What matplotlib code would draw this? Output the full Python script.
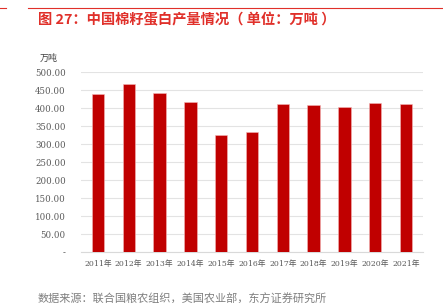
import matplotlib.pyplot as plt
from matplotlib.lines import Line2D

plt.rcParams['font.family'] = ['Noto Sans CJK SC', 'DejaVu Sans']

years = ['2011年', '2012年', '2013年', '2014年', '2015年', '2016年',
         '2017年', '2018年', '2019年', '2020年', '2021年']
output = [439, 466, 443, 416, 325, 333, 411, 409, 404, 413, 411]
yticks = [0, 50, 100, 150, 200, 250, 300, 350, 400, 450, 500]
ytick_labels = ['-'] + ['%.2f' % v for v in yticks[1:]]

W, H = 443, 303
fig = plt.figure(figsize=(W / 100, H / 100), dpi=100)

# plot area in pixel coords
left, right, top, bottom = 81, 423, 72, 252
ax = fig.add_axes([left / W, 1 - bottom / H, (right - left) / W, (bottom - top) / H])

x = range(len(years))
ax.bar(x, output, width=0.4, color='#C00000', edgecolor='#F4B6B6', linewidth=0.4, zorder=3)
ax.set_xlim(-0.55, len(years) - 0.45)
ax.set_ylim(0, 500)
ax.set_yticks(yticks)
ax.set_yticklabels(ytick_labels)
ax.set_xticks(list(x))
ax.set_xticklabels(years)
ax.grid(axis='y', color='#E3E3E3', linewidth=0.8, zorder=0)
for s in ['top', 'right', 'left']:
    ax.spines[s].set_visible(False)
ax.spines['bottom'].set_color('#D9D9D9')
ax.tick_params(length=0, colors='#595959', pad=6)
ax.tick_params(axis='y', pad=11, labelsize=6.2)
ax.tick_params(axis='x', labelsize=5.6)
serif = ['DejaVu Serif', 'Noto Sans CJK SC']
for lab in ax.get_xticklabels() + ax.get_yticklabels():
    lab.set_family(serif)

# header rule
fig.add_artist(Line2D([28 / W, 1], [1 - 8 / H, 1 - 8 / H], color='#E0302A', lw=0.8))
fig.add_artist(Line2D([0, 6 / W], [1 - 8 / H, 1 - 8 / H], color='#E0302A', lw=0.8))

fig.text(38 / W, 1 - 20 / H, '图 27：中国棉籽蛋白产量情况（ 单位：万吨 ）',
         color='#E0302A', fontsize=10.3, fontweight='bold', va='center', ha='left')
fig.text(40 / W, 1 - 58 / H, '万吨', color='#404040', fontsize=6.5, va='center', ha='left')
fig.text(38 / W, 1 - 299 / H, '数据来源：联合国粮农组织，美国农业部，东方证券研究所',
         color='#7F7F7F', fontsize=8, va='center', ha='left')

fig.savefig('out.png', dpi=100)
